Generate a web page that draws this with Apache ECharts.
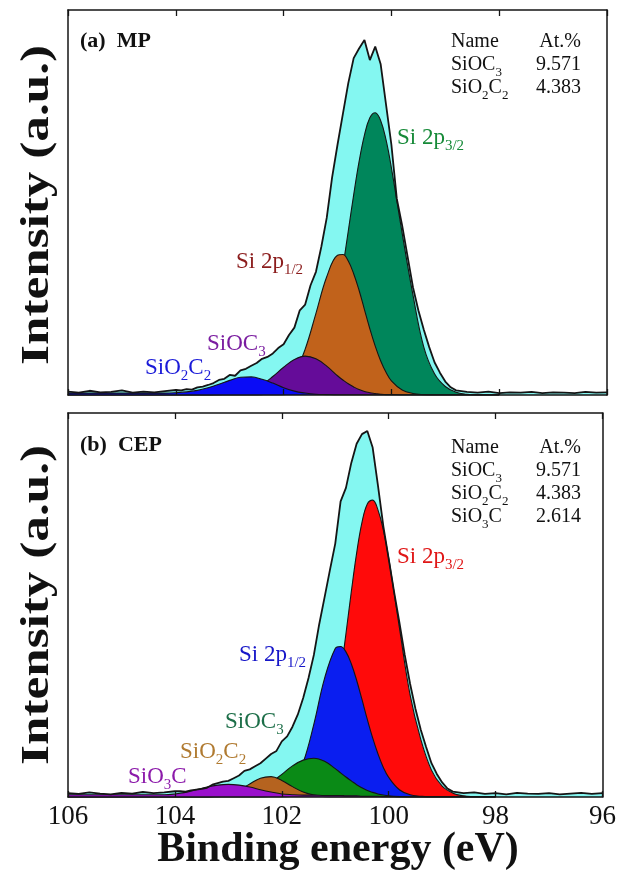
<!DOCTYPE html>
<html>
<head>
<meta charset="utf-8">
<script src="https://cdn.jsdelivr.net/npm/echarts@6/dist/echarts.min.js"></script>
<style>
  html, body { margin: 0; padding: 0; background: #fff; }
  #chart { width: 619px; height: 874px; }
</style>
</head>
<body>
<div id="chart"></div>
<script>
// ---- data (binding energy in eV, intensity in % of panel height) ----

// grid used by the fitted components (finer near the main peaks)
const compEnergy = [106.0, 105.8, 105.6, 105.4, 105.2, 105.0, 104.8, 104.6, 104.4, 104.2,
  104.0, 103.8, 103.6, 103.4, 103.2, 103.0, 102.8, 102.6, 102.4, 102.2,
  102.0, 101.8, 101.6, 101.4, 101.2, 101.0,
  100.9, 100.8, 100.7, 100.6, 100.5, 100.4, 100.3, 100.2, 100.1, 100.0,
  99.8, 99.6, 99.4, 99.2, 99.0, 98.8, 98.6, 98.4, 98.2, 98.0];

// grid used by the raw spectra
const envEnergy = [106.0, 105.8, 105.6, 105.4, 105.2, 105.0, 104.8, 104.6, 104.4, 104.2, 104.0,
  103.9, 103.8, 103.7, 103.6, 103.5, 103.4, 103.3, 103.2, 103.1, 103.0,
  102.9, 102.8, 102.7, 102.6, 102.5, 102.4, 102.3, 102.2, 102.1, 102.0,
  101.9, 101.8, 101.7, 101.6, 101.5, 101.4, 101.3, 101.2, 101.1, 101.0,
  100.9, 100.8, 100.7, 100.6, 100.5, 100.4, 100.3, 100.2, 100.1, 100.0,
  99.9, 99.8, 99.7, 99.6, 99.5, 99.4, 99.3, 99.2, 99.1, 99.0,
  98.9, 98.8,
  98.6, 98.4, 98.2, 98.0, 97.8, 97.6, 97.4, 97.2, 97.0, 96.8, 96.6, 96.4, 96.2, 96.0];

// (a) MP
const mpEnvelope = [0.9, 0.6, 1.1, 0.7, 0.8, 1.2, 0.6, 0.9, 0.7, 1.0, 1.3,
  1.2, 1.5, 1.4, 2.0, 2.2, 2.6, 3.1, 3.9, 4.2, 5.2,
  5.0, 6.4, 6.8, 7.6, 8.3, 9.4, 9.9, 10.8, 12.2, 13.2,
  15.6, 17.5, 22.0, 23.5, 28.5, 32.0, 38.5, 46.0, 56.5, 65.0,
  73.0, 81.0, 87.5, 90.0, 92.2, 87.0, 90.5, 86.0, 75.5, 65.0,
  51.0, 44.0, 36.0, 28.0, 22.0, 17.0, 12.5, 8.5, 5.8, 3.5,
  2.0, 1.2,
  0.8, 0.6, 0.9, 0.5, 0.7, 0.6, 0.8, 0.5, 0.7, 0.6, 0.5, 0.8, 0.6, 0.7];
const mpSi2p32 = [0, 0, 0, 0, 0, 0, 0, 0, 0, 0, 0, 0, 0, 0, 0, 0, 0, 0, 0, 0,
  0.1, 0.5, 1.7, 5.0, 12.2, 24.9,
  33.3, 42.6, 52.0, 60.6, 67.5, 72.0, 73.3, 71.3, 66.3, 59.0,
  42.0, 26.0, 12.5, 5.5, 2.2, 0.7, 0.2, 0, 0, 0];
const mpSi2p12 = [0, 0, 0, 0, 0, 0, 0, 0, 0, 0, 0, 0, 0, 0, 0, 0, 0, 0,
  0.1, 0.6, 2.0, 5.4, 11.9, 21.2, 30.7, 36.3,
  36.5, 34.8, 31.5, 27.2, 22.2, 17.2, 12.7, 8.9, 5.9, 3.7,
  1.3, 0.4, 0.1, 0, 0, 0, 0, 0, 0, 0];
const mpSiOC3 = [0, 0, 0, 0, 0, 0, 0, 0, 0, 0, 0, 0, 0, 0,
  0.1, 0.2, 0.5, 1.3, 2.7, 4.8, 7.2, 9.2, 10.1, 9.4, 7.5, 5.0,
  3.9, 2.9, 2.1, 1.4, 0.9, 0.6, 0.4, 0.2, 0.1, 0.1,
  0, 0, 0, 0, 0, 0, 0, 0, 0, 0];
const mpSiO2C2 = [0.5, 0.5, 0.5, 0.5, 0.5, 0.5, 0.5, 0.5, 0.5,
  0.5, 0.6, 0.8, 1.2, 1.9, 2.8, 3.8, 4.6, 4.7, 4.1, 3.1, 1.9, 1.0, 0.5, 0.2, 0.1, 0,
  0, 0, 0, 0, 0, 0, 0, 0, 0, 0,
  0, 0, 0, 0, 0, 0, 0, 0, 0, 0];

// (b) CEP
const cepEnvelope = [1.0, 0.8, 1.2, 0.9, 0.7, 1.1, 0.9, 1.3, 1.0, 1.2, 1.5,
  1.5, 1.4, 1.7, 1.9, 2.1, 2.4, 3.2, 3.6, 4.0, 4.2,
  4.9, 5.6, 6.8, 7.2, 8.0, 8.8, 10.0, 11.2, 12.0, 14.5,
  15.8, 18.3, 21.5, 25.8, 31.0, 37.0, 45.0, 52.0, 59.1, 66.0,
  77.0, 80.5, 87.0, 92.0, 94.5, 95.3, 91.0, 81.0, 70.5, 62.0,
  53.5, 45.5, 37.0, 29.5, 23.0, 17.5, 13.0, 8.8, 6.0, 3.8,
  2.2, 1.4,
  1.0, 1.2, 0.8, 1.0, 0.7, 1.1, 0.9, 0.8, 1.0, 0.7, 0.9, 1.1, 0.8, 1.0];
const cepSi2p32 = [0, 0, 0, 0, 0, 0, 0, 0, 0, 0, 0, 0, 0, 0, 0, 0, 0, 0, 0, 0, 0,
  0.2, 1.0, 3.5, 10.0, 23.0,
  32.1, 42.5, 53.4, 63.5, 71.5, 76.3, 77.3, 74.7, 69.5, 62.2,
  44.1, 26.6, 15.0, 7.0, 2.8, 1.0, 0.3, 0.1, 0, 0];
const cepSi2p12 = [0, 0, 0, 0, 0, 0, 0, 0, 0, 0, 0, 0, 0, 0, 0, 0, 0, 0, 0,
  0.2, 0.9, 3.3, 9.0, 19.0, 30.9, 38.7,
  39.2, 37.8, 34.7, 30.4, 25.4, 20.2, 15.4, 11.2, 7.7, 5.1,
  1.9, 0.6, 0.2, 0, 0, 0, 0, 0, 0, 0];
const cepSiOC3 = [0, 0, 0, 0, 0, 0, 0, 0, 0, 0, 0, 0, 0, 0,
  0.1, 0.2, 0.5, 1.1, 2.1, 3.8, 5.9, 8.1, 9.6, 10.1, 9.3, 7.4,
  6.3, 5.2, 4.2, 3.2, 2.4, 1.7, 1.2, 0.8, 0.5, 0.3,
  0.1, 0, 0, 0, 0, 0, 0, 0, 0, 0];
const cepSiO2C2 = [0, 0, 0, 0, 0, 0, 0, 0, 0, 0, 0, 0, 0, 0,
  0.2, 0.7, 1.8, 3.4, 4.9, 5.3, 4.3, 2.7, 1.3, 0.5, 0.1, 0,
  0, 0, 0, 0, 0, 0, 0, 0, 0, 0,
  0, 0, 0, 0, 0, 0, 0, 0, 0, 0];
const cepSiO3C = [0.6, 0.6, 0.6, 0.6, 0.6, 0.6, 0.6, 0.6, 0.6,
  0.6, 0.8, 1.2, 1.9, 2.6, 3.1, 3.3, 3.1, 2.6, 1.9, 1.3, 0.8, 0.6, 0.5, 0.5, 0.4, 0.4,
  0.4, 0.3, 0.3, 0.3, 0.2, 0.2, 0.2, 0.2, 0.1, 0.1,
  0, 0, 0, 0, 0, 0, 0, 0, 0, 0];

// tables in the upper right corners
const mpTableNames = ['SiOC{s|3}', 'SiO{s|2}C{s|2}'];
const mpTableValues = ['9.571', '4.383'];
const cepTableNames = ['SiOC{s|3}', 'SiO{s|2}C{s|2}', 'SiO{s|3}C'];
const cepTableValues = ['9.571', '4.383', '2.614'];

// ---- chart ----
const serif = '"Liberation Serif", "Times New Roman", serif';
const ink = '#151515';
const cyan = '#84f7f1';

function zip(xs, ys) {
  return xs.map((x, i) => [x, ys[i]]);
}

function xAx(gridIndex, position, showLabel) {
  return {
    gridIndex: gridIndex,
    type: 'value',
    min: 96,
    max: 106,
    interval: 2,
    inverse: true,
    position: position,
    z: 30,
    axisLine: { show: true, onZero: false, lineStyle: { color: ink, width: 1.5 } },
    axisTick: { show: true, inside: true, length: 6, lineStyle: { color: ink, width: 1.3 } },
    axisLabel: { show: showLabel, color: '#111', fontFamily: serif, fontSize: 27, margin: 6 },
    splitLine: { show: false },
  };
}

function yAx(gridIndex, position) {
  return {
    gridIndex: gridIndex,
    type: 'value',
    min: 0,
    max: 100,
    position: position,
    z: 30,
    axisLine: { show: true, onZero: false, lineStyle: { color: ink, width: 1.5 } },
    axisTick: { show: false },
    axisLabel: { show: false },
    splitLine: { show: false },
  };
}

// each series gets its own z so that a later peak hides the outline of the ones below it
let zNext = 2;

function envArea(axis, values) {
  return {
    type: 'line', xAxisIndex: axis, yAxisIndex: axis,
    data: zip(envEnergy, values),
    symbol: 'none', silent: true, z: zNext++,
    lineStyle: { opacity: 0 },
    areaStyle: { color: cyan, opacity: 1 },
  };
}

function envLine(axis, values) {
  return {
    type: 'line', xAxisIndex: axis, yAxisIndex: axis,
    data: zip(envEnergy, values),
    symbol: 'none', silent: true, z: zNext++,
    lineStyle: { color: ink, width: 1.8 },
  };
}

function peak(axis, values, color) {
  return {
    type: 'line', xAxisIndex: axis, yAxisIndex: axis,
    data: zip(compEnergy, values),
    smooth: 0.4, symbol: 'none', silent: true, z: zNext++,
    lineStyle: { color: ink, width: 1.1 },
    areaStyle: { color: color, opacity: 1 },
  };
}

function txt(x, y, text, size, color, extra) {
  const sub = Math.round(size * 0.66);
  return Object.assign({
    type: 'text', x: x, y: y, silent: true, z: 40,
    style: {
      text: text, fill: color, font: size + 'px ' + serif,
      align: 'left', verticalAlign: 'middle', lineHeight: size + 8,
      rich: { s: { font: sub + 'px ' + serif, verticalAlign: 'bottom', lineHeight: sub } },
    },
  }, extra || {});
}

function table(yTop, names, values) {
  const out = [txt(451, yTop, 'Name', 20, '#111'),
    txt(581, yTop, 'At.%', 20, '#111')];
  out[1].style.align = 'right';
  names.forEach((n, i) => {
    out.push(txt(451, yTop + 23 * (i + 1), n, 20, '#111'));
    const v = txt(581, yTop + 23 * (i + 1), values[i], 20, '#111');
    v.style.align = 'right';
    out.push(v);
  });
  return out;
}

const graphics = [
  txt(80, 41, '(a)  MP', 22, '#111'),
  txt(80, 445, '(b)  CEP', 22, '#111'),
  // panel (a) peak names
  txt(397, 138, 'Si 2p{s|3/2}', 23, '#168a38'),
  txt(236, 262, 'Si 2p{s|1/2}', 23, '#8b1c1c'),
  txt(207, 344, 'SiOC{s|3}', 23, '#7a1ca0'),
  txt(145, 368, 'SiO{s|2}C{s|2}', 23, '#1a1ad8'),
  // panel (b) peak names
  txt(397, 557, 'Si 2p{s|3/2}', 23, '#e01616'),
  txt(239, 655, 'Si 2p{s|1/2}', 23, '#1616c8'),
  txt(225, 722, 'SiOC{s|3}', 23, '#1c6e48'),
  txt(180, 752, 'SiO{s|2}C{s|2}', 23, '#b07a30'),
  txt(128, 777, 'SiO{s|3}C', 23, '#8c1aaa'),
  // axis titles
  txt(338, 850, 'Binding energy (eV)', 42, '#111'),
  txt(38, 205, 'Intensity (a.u.)', 40, '#111', { rotation: Math.PI / 2, scaleX: 1.28 }),
  txt(38, 605, 'Intensity (a.u.)', 40, '#111', { rotation: Math.PI / 2, scaleX: 1.28 }),
].concat(table(42, mpTableNames, mpTableValues), table(448, cepTableNames, cepTableValues));

// bold titles and centred axis names
graphics[0].style.font = 'bold 22px ' + serif;
graphics[1].style.font = 'bold 22px ' + serif;
[11, 12, 13].forEach(i => {
  graphics[i].style.font = 'bold ' + (i === 11 ? 42 : 40) + 'px ' + serif;
  graphics[i].style.align = 'center';
});

const chart = echarts.init(document.getElementById('chart'));
chart.setOption({
  animation: false,
  backgroundColor: '#fff',
  grid: [
    { left: 68, right: 12, top: 10, height: 385 },
    { left: 68, right: 12, top: 413, height: 384 },
  ],
  xAxis: [xAx(0, 'bottom', false), xAx(0, 'top', false), xAx(1, 'bottom', true), xAx(1, 'top', false)],
  yAxis: [yAx(0, 'left'), yAx(0, 'right'), yAx(1, 'left'), yAx(1, 'right')],
  series: [
    // (a) MP: later series are drawn over earlier ones
    envArea(0, mpEnvelope),
    peak(0, mpSi2p32, '#00865b'),
    peak(0, mpSi2p12, '#c1621b'),
    peak(0, mpSiOC3, '#650c99'),
    peak(0, mpSiO2C2, '#0a0cf6'),
    envLine(0, mpEnvelope),
    // (b) CEP
    envArea(2, cepEnvelope),
    peak(2, cepSi2p32, '#ff0a0a'),
    peak(2, cepSi2p12, '#0a1ef0'),
    peak(2, cepSiOC3, '#0a8a16'),
    peak(2, cepSiO2C2, '#b5631f'),
    peak(2, cepSiO3C, '#9a10cc'),
    envLine(2, cepEnvelope),
  ],
  graphic: graphics,
});
</script>
</body>
</html>
